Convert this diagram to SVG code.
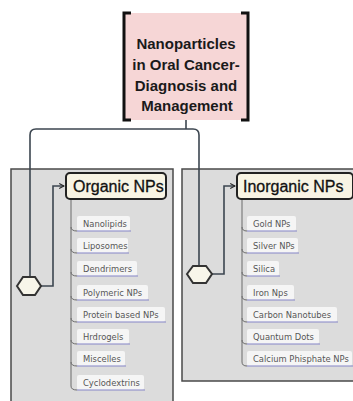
<svg xmlns="http://www.w3.org/2000/svg" width="353" height="401" viewBox="0 0 353 401">
<defs>
<style>
.panel{fill:#dcdcdc;stroke:#4a4a4a;stroke-width:1.5}
.con{fill:none;stroke:#3c4650;stroke-width:1.6}
.spine{fill:none;stroke:#6a6a6a;stroke-width:1}
.hdr{fill:#f8f4e4;stroke:#222;stroke-width:2}
.hdrt{font-family:"Liberation Sans",Arial,sans-serif;font-size:16px;fill:#111;stroke:#111;stroke-width:0.3}
.item{fill:#f5f5f5}
.ul{stroke:#8585c8;stroke-width:1.2}
.it{font-family:"DejaVu Sans",Verdana,sans-serif;font-size:8.4px;fill:#555}
.dia{fill:#f8f6ea;stroke:#333;stroke-width:2}
.title{font-family:"Liberation Sans",Arial,sans-serif;font-size:15px;font-weight:bold;fill:#1a1a1a;text-anchor:middle}
.br{fill:none;stroke:#111;stroke-width:3}
</style>
<marker id="arr" viewBox="0 0 10 10" refX="9" refY="5" markerWidth="6" markerHeight="6" orient="auto" markerUnits="userSpaceOnUse">
<path d="M1,1 L9,5 L1,9" fill="none" stroke="#222" stroke-width="1.8"/>
</marker>
</defs>
<rect width="353" height="401" fill="#ffffff"/>
<g id="panel-organic"><rect class="panel" x="11" y="169" width="162" height="240"/></g>
<g id="panel-inorganic"><rect class="panel" x="182" y="169" width="180" height="212"/></g>
<g id="title">
<rect x="124" y="13" width="124" height="107" fill="#f6d6d6"/>
<path class="br" d="M131,13 H124 V120 H131"/>
<path class="br" d="M241,13 H248 V120 H241"/>
<text class="title" x="186" y="49">Nanoparticles</text>
<text class="title" x="186" y="70">in Oral Cancer-</text>
<text class="title" x="186" y="91">Diagnosis and</text>
<text class="title" x="187" y="111">Management</text>
</g>
<g id="connectors">
<path class="con" d="M186,120 V129"/>
<path class="con" d="M186,129 H36 Q30,129 30,135 V277"/>
<path class="con" d="M186,129 H193 Q199,129 199,135 V266"/>
<path class="con" d="M41,286 H53 V186 H64" marker-end="url(#arr)"/>
<path class="con" d="M212,274 H224 V186 H235" marker-end="url(#arr)"/>
<path class="spine" d="M71,199 V386 Q71,390 77,390"/>
<path class="spine" d="M71,227 Q71,231 77,231 M71,249 Q71,253 77,253 M71,272 Q71,276 77,276 M71,296 Q71,300 77,300 M71,318 Q71,322 77,322 M71,340 Q71,344 77,344 M71,362 Q71,366 77,366"/>
<path class="spine" d="M242,199 V362 Q242,366 247,366"/>
<path class="spine" d="M242,227 Q242,231 247,231 M242,249 Q242,253 247,253 M242,272 Q242,276 247,276 M242,296 Q242,300 247,300 M242,318 Q242,322 247,322 M242,340 Q242,344 247,344"/>
</g>
<g id="diamond-organic"><polygon class="dia" points="17,286 23,277 35,277 41,286 35,295 23,295"/></g>
<g id="diamond-inorganic"><polygon class="dia" points="187,274 193,266 206,266 212,274 206,283 193,283"/></g>
<g id="organic-nps"><rect class="hdr" x="66" y="173" width="100" height="26" rx="4"/><text class="hdrt" x="73" y="192">Organic NPs</text></g>
<g id="inorganic-nps"><rect class="hdr" x="237" y="173" width="116" height="26" rx="4"/><text class="hdrt" x="243" y="192">Inorganic NPs</text></g>
<g id="nanolipids"><rect class="item" x="77" y="216" width="53" height="15" rx="2"/><line class="ul" x1="77" y1="231" x2="131" y2="231"/><text class="it" x="83" y="227">Nanolipids</text></g>
<g id="liposomes"><rect class="item" x="77" y="238" width="51" height="15" rx="2"/><line class="ul" x1="77" y1="253" x2="129" y2="253"/><text class="it" x="83" y="249">Liposomes</text></g>
<g id="dendrimers"><rect class="item" x="77" y="261" width="60" height="15" rx="2"/><line class="ul" x1="77" y1="276" x2="138" y2="276"/><text class="it" x="83" y="272">Dendrimers</text></g>
<g id="polymeric"><rect class="item" x="77" y="285" width="71" height="15" rx="2"/><line class="ul" x1="77" y1="300" x2="149" y2="300"/><text class="it" x="83" y="296">Polymeric NPs</text></g>
<g id="protein"><rect class="item" x="77" y="307" width="88" height="15" rx="2"/><line class="ul" x1="77" y1="322" x2="166" y2="322"/><text class="it" x="83" y="318">Protein based NPs</text></g>
<g id="hydrogels"><rect class="item" x="77" y="329" width="52" height="15" rx="2"/><line class="ul" x1="77" y1="344" x2="130" y2="344"/><text class="it" x="83" y="340">Hrdrogels</text></g>
<g id="miscelles"><rect class="item" x="77" y="351" width="48" height="15" rx="2"/><line class="ul" x1="77" y1="366" x2="126" y2="366"/><text class="it" x="83" y="362">Miscelles</text></g>
<g id="cyclodextrins"><rect class="item" x="77" y="375" width="67" height="15" rx="2"/><line class="ul" x1="77" y1="390" x2="145" y2="390"/><text class="it" x="83" y="386">Cyclodextrins</text></g>
<g id="gold"><rect class="item" x="247" y="216" width="49" height="15" rx="2"/><line class="ul" x1="247" y1="231" x2="297" y2="231"/><text class="it" x="253" y="227">Gold NPs</text></g>
<g id="silver"><rect class="item" x="247" y="238" width="51" height="15" rx="2"/><line class="ul" x1="247" y1="253" x2="299" y2="253"/><text class="it" x="253" y="249">Silver NPs</text></g>
<g id="silica"><rect class="item" x="247" y="261" width="32" height="15" rx="2"/><line class="ul" x1="247" y1="276" x2="280" y2="276"/><text class="it" x="253" y="272">Silica</text></g>
<g id="iron"><rect class="item" x="247" y="285" width="47" height="15" rx="2"/><line class="ul" x1="247" y1="300" x2="295" y2="300"/><text class="it" x="253" y="296">Iron Nps</text></g>
<g id="carbon"><rect class="item" x="247" y="307" width="90" height="15" rx="2"/><line class="ul" x1="247" y1="322" x2="338" y2="322"/><text class="it" x="253" y="318">Carbon Nanotubes</text></g>
<g id="quantum"><rect class="item" x="247" y="329" width="72" height="15" rx="2"/><line class="ul" x1="247" y1="344" x2="320" y2="344"/><text class="it" x="253" y="340">Quantum Dots</text></g>
<g id="calcium"><rect class="item" x="247" y="351" width="105" height="15" rx="2"/><line class="ul" x1="247" y1="366" x2="353" y2="366"/><text class="it" x="253" y="362">Calcium Phisphate NPs</text></g>
</svg>
